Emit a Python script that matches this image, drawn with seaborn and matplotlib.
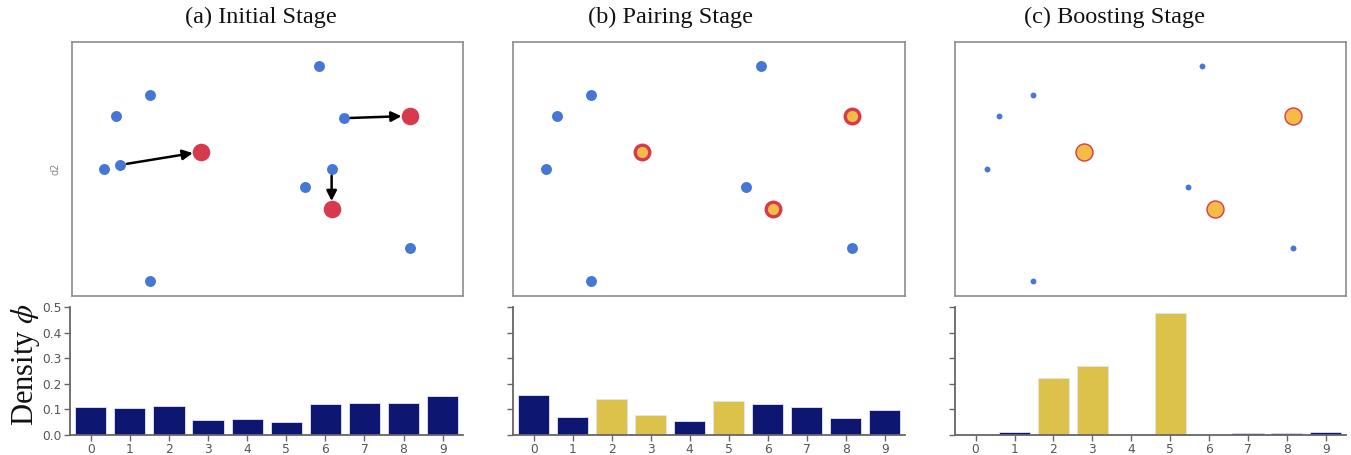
import numpy as np
import pandas as pd
import matplotlib
matplotlib.use("Agg")
import matplotlib.pyplot as plt
import seaborn as sns

# ---------------- data ----------------
titles = ["(a) Initial Stage", "(b) Pairing Stage", "(c) Boosting Stage"]
categories = ["0", "1", "2", "3", "4", "5", "6", "7", "8", "9"]
density_initial = [0.108, 0.104, 0.112, 0.057, 0.062, 0.052, 0.121, 0.126, 0.126, 0.153]
density_pairing = [0.158, 0.071, 0.140, 0.077, 0.053, 0.131, 0.122, 0.108, 0.067, 0.099]
density_boosting = [0.0, 0.011, 0.222, 0.271, 0.0, 0.478, 0.0, 0.006, 0.006, 0.011]
paired_bins_b = ["2", "3", "5"]
paired_bins_c = ["2", "3", "5"]

# embedding points (d1, d2)
static_x = [6.32, 1.99, 1.13, 0.83, 5.95, 8.64, 1.99]
static_y = [9.06, 7.91, 7.09, 5.01, 4.29, 1.90, 0.59]
moving_x = [1.23, 6.95, 6.64]
moving_y = [5.16, 7.00, 5.01]
target_x = [3.30, 8.64, 6.64]
target_y = [5.68, 7.09, 3.41]

# ---------------- style ----------------
sns.set_theme(style="white")
plt.rcParams["font.family"] = ["DejaVu Sans"]
plt.rcParams["mathtext.fontset"] = "stix"

BLUE = "#4677d4"
RED = "#d63a4c"
YELLOW = "#f5bc45"
NAVY = "#0d1671"
BAR_YELLOW = "#dcc24a"
SPINE = "#8c8c8c"
TICK = "#555555"

W, H = 1351, 455
fig = plt.figure(figsize=(W / 100, H / 100), dpi=100)


def ax_px(left, top, right, bottom):
    return fig.add_axes([left / W, 1 - bottom / H, (right - left) / W, (bottom - top) / H])


scatter_boxes = [(72, 42, 463, 296), (513, 42, 905, 296), (955, 42, 1346, 296)]
bar_boxes = [(70, 307, 463, 435), (513, 307, 905, 435), (955, 307, 1346, 435)]
title_cx = [261, 670, 1115]

static_df = pd.DataFrame({"d1": static_x, "d2": static_y})
moving_df = pd.DataFrame({"d1": moving_x, "d2": moving_y})
target_df = pd.DataFrame({"d1": target_x, "d2": target_y})

for i in range(3):
    ax = ax_px(*scatter_boxes[i])
    if i == 0:
        sns.scatterplot(data=static_df, x="d1", y="d2", color=BLUE, s=62, linewidth=0, ax=ax)
        sns.scatterplot(data=moving_df, x="d1", y="d2", color=BLUE, s=62, linewidth=0, ax=ax)
        sns.scatterplot(data=target_df, x="d1", y="d2", color=RED, s=160, linewidth=0, ax=ax)
        for mx, my, tx, ty in zip(moving_x, moving_y, target_x, target_y):
            ax.annotate("", xy=(tx, ty), xytext=(mx, my),
                        arrowprops=dict(arrowstyle="-|>", color="black", lw=1.8,
                                        mutation_scale=15, shrinkA=5, shrinkB=6))
    elif i == 1:
        sns.scatterplot(data=static_df, x="d1", y="d2", color=BLUE, s=62, linewidth=0, ax=ax)
        sns.scatterplot(data=target_df, x="d1", y="d2", color=YELLOW, s=110,
                        edgecolor=RED, linewidth=2.4, ax=ax)
    else:
        sns.scatterplot(data=static_df, x="d1", y="d2", color=BLUE, s=18, linewidth=0, ax=ax)
        sns.scatterplot(data=target_df, x="d1", y="d2", color=YELLOW, s=150,
                        edgecolor=RED, linewidth=1.0, ax=ax)
    ax.set_xlim(0, 10)
    ax.set_ylim(0, 10)
    ax.set_xticks([])
    ax.set_yticks([])
    ax.set_xlabel("")
    ax.set_ylabel("d2" if i == 0 else "", fontsize=7, color="#888888", labelpad=8)
    for sp in ax.spines.values():
        sp.set_color(SPINE)
        sp.set_linewidth(1.2)
    fig.text(title_cx[i] / W, 1 - 17 / H, titles[i], ha="center", va="center",
             family="Liberation Serif", fontsize=17.5, color="#111111")

bar_sets = [(density_initial, []), (density_pairing, paired_bins_b), (density_boosting, paired_bins_c)]
for i, (vals, paired) in enumerate(bar_sets):
    ax = ax_px(*bar_boxes[i])
    df = pd.DataFrame({"bin": categories, "density": vals,
                       "kind": ["paired" if c in paired else "normal" for c in categories]})
    sns.barplot(data=df, x="bin", y="density", hue="kind",
                palette={"normal": NAVY, "paired": BAR_YELLOW}, dodge=False,
                legend=False, width=0.8, saturation=1, edgecolor="#e4e4f0",
                linewidth=0.6, ax=ax)
    ax.set_xlim(-0.53, 9.52)
    ax.set_ylim(0, 0.5)
    ax.set_yticks([0.0, 0.1, 0.2, 0.3, 0.4, 0.5])
    ax.set_xlabel("")
    ax.set_ylabel("")
    sns.despine(ax=ax)
    for side in ("left", "bottom"):
        ax.spines[side].set_color("#666666")
        ax.spines[side].set_linewidth(1.3)
    ax.tick_params(axis="both", direction="out", length=4, width=1, color="#666666",
                   labelsize=8.8, labelcolor=TICK, left=True, bottom=True, pad=2)
    if i == 0:
        ax.set_yticklabels(["0.0", "0.1", "0.2", "0.3", "0.4", "0.5"])
    else:
        ax.set_yticklabels([])

fig.text(25 / W, 1 - 365 / H, r"Density $\phi$", rotation=90, ha="center", va="center",
         family="Liberation Serif", fontsize=22, color="#111111")

fig.savefig("out.png", dpi=100)
